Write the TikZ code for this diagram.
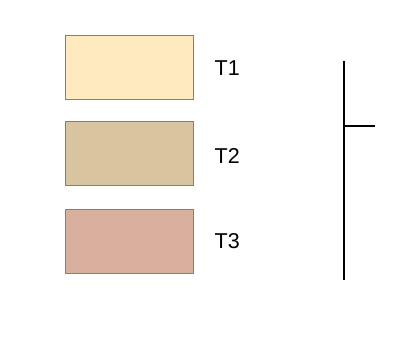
\documentclass[tikz,border=0pt]{standalone}
\usepackage{fontspec}
\setmainfont{Liberation Sans}
\definecolor{boxA}{HTML}{FFEAC0}
\definecolor{boxB}{HTML}{D8C49E}
\definecolor{boxC}{HTML}{D8B09D}
\definecolor{boxline}{HTML}{808080}
\begin{document}
\begin{tikzpicture}[x=1pt,y=-1pt,
  swatch/.style={draw=boxline,line width=0.8pt,minimum width=128pt,minimum height=64pt,inner sep=0pt,anchor=north west},
  lbl/.style={font=\fontsize{21.5}{24}\selectfont,inner sep=0pt,anchor=base west},
  bar/.style={line width=2pt,black}]
\useasboundingbox (0,0) rectangle (404,339);
\node[swatch,fill=boxA] (r1) at (64.5,35) {};
\node[swatch,fill=boxB] (r2) at (64.5,121.5) {};
\node[swatch,fill=boxC] (r3) at (64.5,208.5) {};
\node[lbl] (t1) at (214.5,75.5) {T1};
\node[lbl] (t2) at (214.5,164) {T2};
\node[lbl] (t3) at (214.5,248.5) {T3};
\coordinate (top) at (344,61);
\coordinate (bot) at (344,280);
\coordinate (j) at (344,126);
\coordinate (tip) at (375,126);
\draw[bar] (top) -- (bot);
\draw[bar] (j) -- (tip);
\end{tikzpicture}
\end{document}
